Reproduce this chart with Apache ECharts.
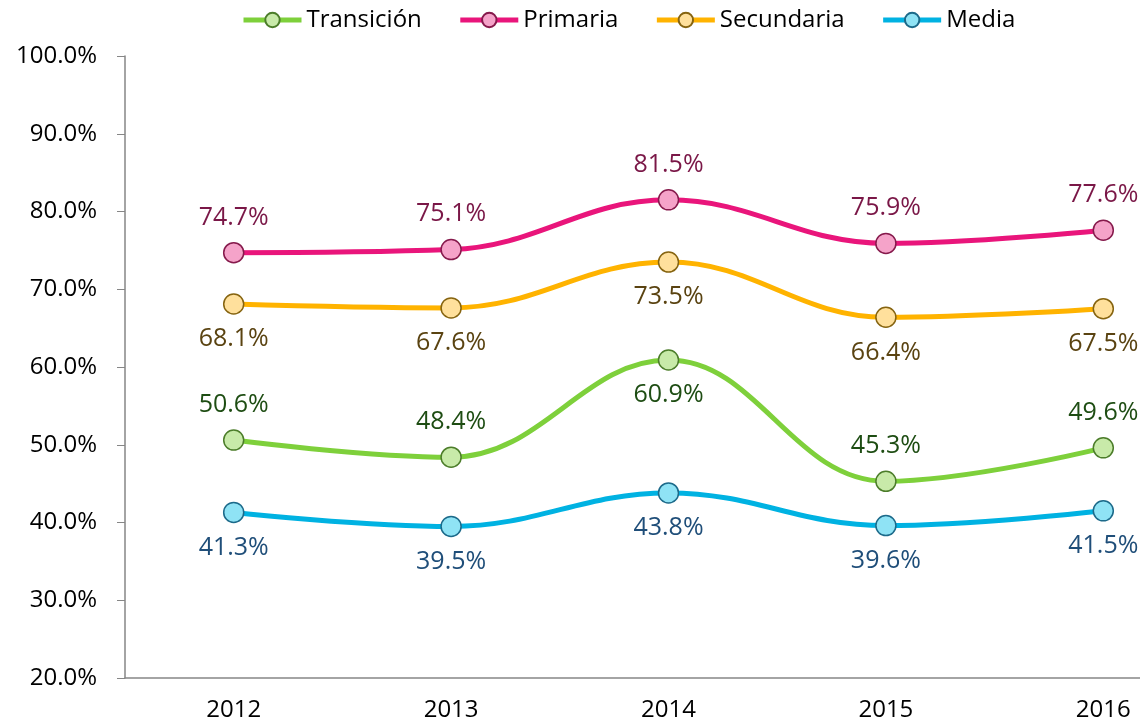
<!DOCTYPE html>
<html>
	<head>
		<meta charset="utf-8">
		<title>Cobertura por nivel</title>
		<script src="https://cdn.jsdelivr.net/npm/echarts@6/dist/echarts.min.js"></script>
		<style>
			html, body { margin: 0; padding: 0; background: #fff; overflow: hidden; }
		</style>
	</head>
	<body>
		<!-- el gráfico original está recortado a la derecha: el lienzo es más ancho que la ventana -->
		<div id="main" style="width: 1212px;height:727px;"></div>
		<script type="text/javascript">
			// datos
			var years = ['2012', '2013', '2014', '2015', '2016'];
			var transicion = [50.6, 48.4, 60.9, 45.3, 49.6];
			var primaria = [74.7, 75.1, 81.5, 75.9, 77.6];
			var secundaria = [68.1, 67.6, 73.5, 66.4, 67.5];
			var media = [41.3, 39.5, 43.8, 39.6, 41.5];
			// posición de la etiqueta de cada punto
			var posTransicion = ['top', 'top', 'bottom', 'top', 'top'];

			var font = '"Open Sans", "Noto Sans", sans-serif';

			function serie(name, values, line, fill, border, labelColor, positions) {
				return {
					name: name,
					type: 'line',
					smooth: 0.4,
					data: values.map(function (v, i) {
						return { value: v, label: { position: positions[i] } };
					}),
					symbol: 'circle',
					symbolSize: 20,
					lineStyle: { color: line, width: 5 },
					itemStyle: { color: fill, borderColor: border, borderWidth: 1.5 },
					label: {
						show: true,
						distance: 12,
						color: labelColor,
						fontSize: 25,
						fontFamily: font,
						formatter: function (p) { return p.value.toFixed(1) + '%'; }
					}
				};
			}

			var myChart = echarts.init(document.getElementById('main'));
			var option = {
				animation: false,
				legend: {
					top: 3,
					left: 236,
					itemWidth: 58,
					itemHeight: 18,
					itemGap: 36,
					lineStyle: { width: 5 },
					textStyle: { fontSize: 24, fontFamily: font, color: '#000' }
				},
				grid: { left: 125, right: 0, top: 56, bottom: 49 },
				xAxis: {
					type: 'category',
					data: years,
					axisLine: { lineStyle: { color: '#868686', width: 1.5 } },
					axisTick: { length: 8, lineStyle: { color: '#868686' } },
					axisLabel: { fontSize: 24, fontFamily: font, color: '#000', margin: 20 }
				},
				yAxis: {
					type: 'value',
					min: 20,
					max: 100,
					interval: 10,
					axisLine: { show: true, lineStyle: { color: '#868686', width: 1.5 } },
					axisTick: { show: true, length: 8, lineStyle: { color: '#868686' } },
					splitLine: { show: false },
					axisLabel: {
						fontSize: 24, fontFamily: font, color: '#000', margin: 28,
						formatter: function (v) { return v.toFixed(1) + '%'; }
					}
				},
				series: [
					serie('Transición', transicion, '#7ed03b', '#c8eaa9', '#4c7d2a', '#1e4d13', posTransicion),
					serie('Primaria', primaria, '#e9157b', '#f5a3c9', '#861a4c', '#7a1747', ['top', 'top', 'top', 'top', 'top']),
					serie('Secundaria', secundaria, '#ffb300', '#ffe09c', '#866410', '#5a4311', ['bottom', 'bottom', 'bottom', 'bottom', 'bottom']),
					serie('Media', media, '#00b2e2', '#8fe3f5', '#1c6a8a', '#1f4e79', ['bottom', 'bottom', 'bottom', 'bottom', 'bottom'])
				]
			};
			myChart.setOption(option);
		</script>
	</body>
</html>
